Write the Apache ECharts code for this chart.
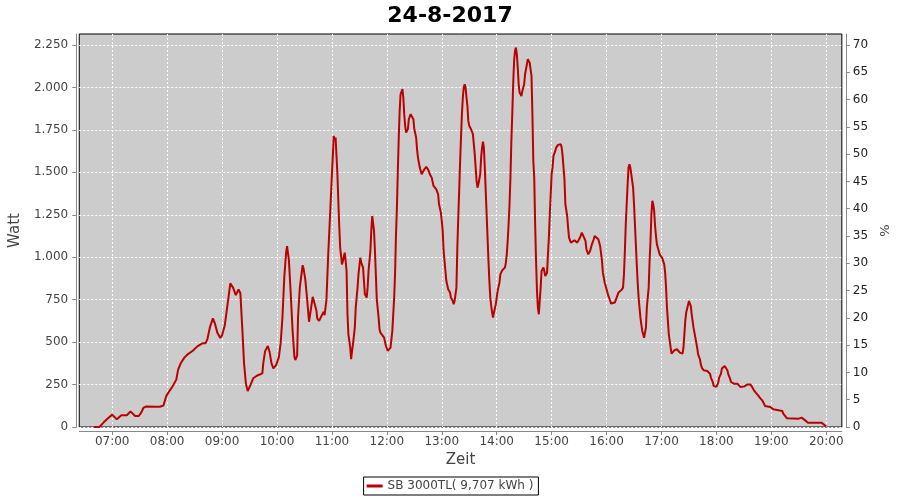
<!DOCTYPE html>
<html><head><meta charset="utf-8">
<script src="https://cdn.jsdelivr.net/npm/echarts@6/dist/echarts.min.js"></script>
<style>html,body{margin:0;padding:0;background:#fff}#c{width:900px;height:500px}</style>
</head><body><div id="c"></div>
<script>
const chartTitle = '24-8-2017';
const seriesName = 'SB 3000TL( 9,707 kWh )';
const xAxisName = 'Zeit';
const leftAxisName = 'Watt';
const rightAxisName = '%';
const xTickLabels = ['07:00','08:00','09:00','10:00','11:00','12:00','13:00','14:00','15:00','16:00','17:00','18:00','19:00','20:00'];
const wattTicks = [0,250,500,750,1000,1250,1500,1750,2000,2250];
const pctTicks = [0,5,10,15,20,25,30,35,40,45,50,55,60,65,70];

const times = [
'06:40','06:46','06:51','06:56','07:00','07:05','07:10','07:16','07:20','07:25','07:29','07:32','07:34','07:37','07:48','07:52','07:54','07:56','07:59',
'08:03','08:06','08:10','08:12','08:15','08:19','08:22','08:28','08:33','08:39','08:42','08:44','08:47','08:50','08:52','08:55','08:58',
'09:00','09:03','09:06','09:09','09:12','09:15','09:18','09:20','09:22','09:24','09:26','09:28','09:31','09:34','09:38','09:44','09:45','09:47','09:50','09:52','09:54','09:56','09:59',
'10:02','10:04','10:06','10:08','10:10','10:11','10:13','10:15','10:17','10:19','10:20','10:22','10:23','10:25','10:28','10:29','10:31','10:33','10:35','10:37','10:39','10:41','10:43','10:44','10:46','10:49','10:51','10:52','10:54','10:56','10:58',
'11:00','11:01','11:02','11:03','11:04','11:06','11:07','11:08','11:09','11:11','11:12','11:14','11:15','11:16','11:17','11:18','11:20','11:21','11:22','11:23','11:25','11:26','11:28','11:29','11:31','11:32','11:34','11:35','11:36','11:38','11:39','11:40','11:42','11:43','11:44','11:45','11:46','11:47','11:48','11:49','11:51','11:52','11:53','11:55','11:57','11:59',
'12:01','12:02','12:04','12:06','12:08','12:09','12:10','12:11','12:12','12:13','12:14','12:15','12:17','12:18','12:19','12:20','12:21','12:23','12:24','12:26','12:28','12:29','12:30','12:32','12:33','12:34','12:36','12:38','12:39','12:41','12:43','12:45','12:47','12:49','12:51','12:52','12:54','12:56','12:57','12:59',
'13:00','13:01','13:02','13:04','13:05','13:07','13:09','13:10','13:12','13:13','13:14','13:16','13:17','13:18','13:19','13:20','13:21','13:22','13:23','13:24','13:25','13:26','13:27','13:28','13:29','13:30','13:32','13:33','13:34','13:35','13:36','13:37','13:38','13:39','13:40','13:42','13:43','13:44','13:45','13:46','13:47','13:48','13:49','13:50','13:51','13:52','13:53','13:54','13:55','13:56','13:57','13:59',
'14:00','14:01','14:03','14:04','14:06','14:08','14:09','14:10','14:11','14:12','14:13','14:14','14:15','14:16','14:17','14:18','14:19','14:20','14:21','14:22','14:23','14:24','14:25','14:27','14:28','14:30','14:31','14:33','14:34','14:35','14:36','14:38','14:39','14:40','14:41','14:42','14:43','14:44','14:45','14:46','14:47','14:48','14:49','14:51','14:52','14:53','14:54','14:55','14:56','14:57','14:58','14:59',
'15:00','15:01','15:02','15:04','15:05','15:07','15:08','15:10','15:11','15:12','15:13','15:14','15:15','15:17','15:18','15:19','15:21','15:22','15:23','15:25','15:26','15:28','15:29','15:31','15:33','15:35','15:37','15:38','15:40','15:42','15:44','15:46','15:47','15:49','15:51','15:53','15:55','15:56','15:58',
'16:00','16:02','16:04','16:05','16:07','16:09','16:11','16:13','16:14','16:16','16:18','16:19','16:20','16:21','16:22','16:23','16:24','16:25','16:26','16:27','16:29','16:30','16:31','16:32','16:33','16:34','16:35','16:36','16:37','16:38','16:39','16:41','16:42','16:43','16:44','16:46','16:47','16:48','16:49','16:50','16:51','16:52','16:53','16:54','16:55','16:57','16:58',
'17:00','17:01','17:03','17:04','17:05','17:06','17:07','17:08','17:10','17:11','17:12','17:14','17:15','17:17','17:18','17:20','17:21','17:23','17:24','17:25','17:26','17:27','17:29','17:30','17:31','17:32','17:33','17:34','17:35','17:36','17:37','17:38','17:39','17:40','17:42','17:43','17:44','17:46','17:48','17:50','17:51','17:53','17:54','17:56','17:57','17:59',
'18:00','18:02','18:03','18:05','18:06','18:08','18:09','18:10','18:12','18:13','18:15','18:16','18:18','18:19','18:21','18:23','18:25','18:26','18:28','18:30','18:32','18:34','18:35','18:37','18:39','18:41','18:43','18:44','18:46','18:48','18:50','18:52','18:53','18:55','18:59',
'19:01','19:02','19:04','19:12','19:13','19:15','19:17','19:19','19:30','19:33','19:35','19:37','19:39','19:40','19:51','19:52','19:53','19:55','19:57','19:58','20:00'
];
const watts = [
0,0,29,55,73,45,69,69,92,65,65,88,112,121,119,119,109,127,182,
216,240,279,338,377,410,426,449,475,494,494,518,593,640,612,553,525,
540,600,723,846,821,777,810,788,590,375,257,212,247,287,302,316,375,447,477,440,375,345,365,
410,494,649,885,1030,1065,983,787,571,414,394,420,649,826,953,934,865,747,620,630,767,767,688,639,625,659,679,659,747,1022,1250,
1489,1597,1715,1690,1705,1489,1332,1184,1057,958,978,1027,978,919,664,546,467,399,448,487,585,703,821,899,998,968,939,860,782,762,821,919,1037,1155,1243,1233,1155,1037,899,752,644,575,556,566,526,477,
448,448,467,566,762,909,1135,1292,1508,1705,1862,1960,1990,1941,1843,1774,1734,1754,1813,1843,1833,1813,1754,1705,1636,1587,1528,1489,1499,1518,1532,1518,1489,1469,1420,1410,1400,1371,1312,1263,
1214,1155,1037,919,860,811,792,762,742,723,742,821,1057,1233,1391,1557,1705,1843,1941,2000,2019,2000,1941,1892,1803,1774,1754,1744,1725,1666,1607,1528,1450,1410,1430,1489,1587,1646,1681,1646,1528,1391,1253,1116,978,860,762,713,674,644,674,723,
762,801,850,899,923,929,939,968,1017,1096,1194,1312,1469,1680,1843,2019,2156,2215,2235,2196,2117,2019,1970,1950,1980,2019,2078,2137,2166,2170,2146,2068,1843,1567,1469,1194,978,801,703,664,742,821,919,939,919,889,880,909,1017,1116,1253,1371,
1489,1528,1597,1626,1646,1662,1670,1666,1646,1597,1528,1460,1312,1243,1174,1116,1086,1086,1096,1100,1096,1086,1080,1116,1145,1135,1096,1047,1017,1037,1076,1106,1125,1125,1106,1066,978,909,850,
811,772,742,727,723,733,762,792,801,805,821,899,1037,1194,1312,1430,1528,1548,1528,1489,1410,1312,1194,1076,958,850,762,703,644,605,566,526,536,585,703,821,978,1096,1253,1332,1312,1273,1184,1125,1076,1037,1017,
1007,993,958,909,821,703,625,546,467,432,438,452,463,458,448,438,428,432,467,546,625,674,719,742,733,713,664,625,585,556,526,497,467,428,399,369,350,334,330,330,326,314,291,265,242,232,
236,261,291,314,344,354,359,354,334,310,283,265,255,255,261,255,245,236,236,238,245,251,261,251,236,216,202,192,183,169,157,137,124,118,118,
114,104,94,94,79,65,51,49,49,55,49,39,29,25,25,35,29,25,20,12,2
];

function toMin(s){ const p = s.split(':'); return (+p[0])*60 + (+p[1]); }
function pad(n){ return (n<10?'0':'') + n; }
function fmtTime(v){ return pad(Math.floor(v/60)) + ':' + pad(Math.round(v%60)); }
function fmtDe(v){ return String(v).replace(/\B(?=(\d{3})+(?!\d))/g, '.'); }

const seriesData = times.map((t,i) => [toMin(t), watts[i]]);
const xTickValues = xTickLabels.map(toMin);

const FONT = 'DejaVu Sans';
const chart = echarts.init(document.getElementById('c'), null, {renderer:'canvas'});
chart.setOption({
  animation: false,
  backgroundColor: '#ffffff',
  title: {
    text: chartTitle, left: 'center', top: 0,
    textStyle: {fontFamily: FONT, fontSize: 22, fontWeight: 'bold', color: '#000'}
  },
  legend: {
    data: [seriesName], left: 'center', top: 477,
    borderColor: '#000', borderWidth: 1, padding: [3, 5, 3, 3],
    icon: 'rect', itemWidth: 16, itemHeight: 3, itemGap: 4,
    textStyle: {fontFamily: FONT, fontSize: 12, color: '#444'}
  },
  grid: {
    left: 79, right: 52, top: 34, bottom: 73,
    show: true, backgroundColor: '#cccccc', borderColor: '#000', borderWidth: 1
  },
  xAxis: {
    type: 'value', min: 384, max: 1217, offset: 4,
    name: xAxisName, nameLocation: 'middle', nameGap: 21,
    nameTextStyle: {fontFamily: FONT, fontSize: 15, color: '#444'},
    axisLine: {show: true, onZero: false, lineStyle: {color: '#888', width: 1}},
    axisTick: {show: true, length: 4, customValues: xTickValues, lineStyle: {color: '#888'}},
    axisLabel: {customValues: xTickValues, formatter: fmtTime, margin: 5,
      fontFamily: FONT, fontSize: 12, color: '#444'},
    splitLine: {show: true, lineStyle: {color: '#ffffff', type: [2, 2], width: 1}}
  },
  yAxis: [{
    type: 'value', min: 0, max: 2315, position: 'left', offset: 3,
    name: leftAxisName, nameLocation: 'middle', nameGap: 45, nameRotate: 90,
    nameTextStyle: {fontFamily: FONT, fontSize: 15, color: '#444'},
    axisLine: {show: true, onZero: false, lineStyle: {color: '#888', width: 1}},
    axisTick: {show: true, length: 4, customValues: wattTicks, lineStyle: {color: '#888'}},
    axisLabel: {customValues: wattTicks, formatter: fmtDe, margin: 8,
      fontFamily: FONT, fontSize: 12, color: '#444'},
    splitLine: {show: true, lineStyle: {color: '#ffffff', type: [2, 2], width: 1}}
  }, {
    type: 'value', min: 0, max: 72, position: 'right', offset: 4,
    name: rightAxisName, nameLocation: 'middle', nameGap: 28, nameRotate: 90,
    nameTextStyle: {fontFamily: FONT, fontSize: 13, color: '#444'},
    axisLine: {show: true, onZero: false, lineStyle: {color: '#888', width: 1}},
    axisTick: {show: true, length: 4, customValues: pctTicks, lineStyle: {color: '#888'}},
    axisLabel: {customValues: pctTicks, margin: 7,
      fontFamily: FONT, fontSize: 12, color: '#222'},
    splitLine: {show: false}
  }],
  series: [{
    name: seriesName, type: 'line', data: seriesData,
    xAxisIndex: 0, yAxisIndex: 0,
    showSymbol: false, symbol: 'none', smooth: false,
    lineStyle: {color: '#bb0000', width: 2},
    itemStyle: {color: '#bb0000'}
  }]
});
</script>
</body></html>
